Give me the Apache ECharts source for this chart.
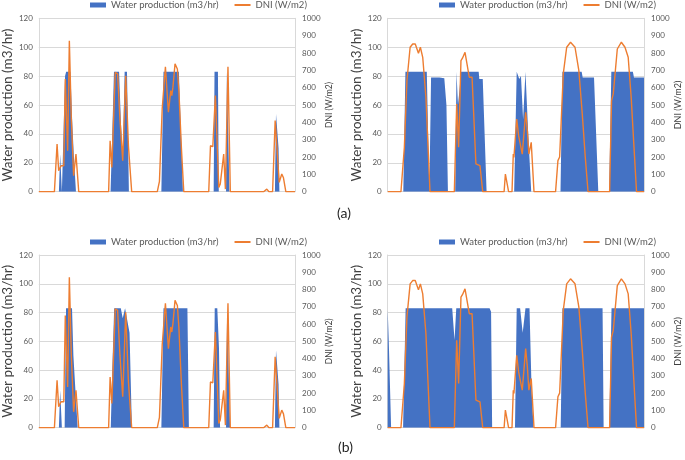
<!DOCTYPE html>
<html>
<head>
<meta charset="utf-8">
<script src="https://cdn.jsdelivr.net/npm/echarts@6/dist/echarts.min.js"></script>
<style>html,body{margin:0;padding:0;background:#fff}#c{width:685px;height:460px}</style>
</head>
<body>
<div id="c"></div>
<script>
// x = time (hours, 0..120)
var seriesNames = ['Water production (m3/hr)', 'DNI (W/m2)'];
var leftTicks = [0, 20, 40, 60, 80, 100, 120];
var rightTicks = [0, 100, 200, 300, 400, 500, 600, 700, 800, 900, 1000];
var captions = ['(a)', '(b)'];

// DNI for the left-hand panels
var dniLeft = [
[0,0],[7.3,0],[8.55,275],[9.3,121],[10.4,150],[11.7,150],[12.4,650],[13.5,236],[14.3,871],[15.2,430],[16.3,92],[17.4,217],[18.7,0],
[32.7,0],[33.4,294],[34.2,140],[35.8,688],[36.9,680],[38.0,420],[39.3,179],[40.7,669],[42.0,260],[43.5,0],
[55.5,0],[56.5,60],[57.8,480],[59.3,721],[60.7,458],[61.8,583],[62.3,554],[62.8,600],[63.8,737],[64.9,708],[65.6,583],[66.8,250],[67.9,0],
[79.6,0],[80.4,265],[81.5,260],[82.7,554],[84.3,25],[85.0,45],[86.6,217],[87.4,15],[88.6,721],[89.7,0],
[104.0,0],[104.6,10],[105.3,0],[106.2,5],[106.8,15],[107.8,0],[109.5,0],[110.7,410],[112.6,54],[113.8,102],[114.6,80],[115.7,0],[120,0]
];

// DNI for the right-hand panels
var dniRight = [
[0,0],[6.2,0],[7.8,256],[9.0,640],[10.5,833],[11.7,852],[12.9,852],[14.4,798],[15.3,833],[16.4,775],[17.9,544],[18.9,256],[19.8,0],
[31.2,0],[32.3,506],[33.2,256],[34.3,756],[35.0,770],[36.2,804],[37.1,804],[38.2,660],[39.5,660],[41.3,160],[43.2,150],[44.5,0],
[54.5,0],[55.1,102],[56.6,0],[58.2,0],[58.8,217],[59.1,198],[60.4,419],[61.3,323],[62.2,323],[63.0,217],[64.6,458],[65.4,350],[66.1,217],[67.2,285],[68.5,0],
[78.6,0],[79.7,179],[80.5,200],[82.2,679],[83.8,833],[85.6,862],[87.7,833],[89.5,698],[91.1,448],[92.5,200],[93.8,0],
[103.9,0],[104.8,525],[105.6,563],[107.5,823],[109.4,862],[111.1,833],[112.6,775],[114.0,544],[115.3,260],[116.5,0],[120,0]
];

// Water production, panel (a) left
var waterALeft = [
[0,0],[9.4,0],[10.0,26],[10.8,0],[11.7,0],[12.3,80],[12.8,83],[14.8,83],[15.6,50],[16.4,25],[17.4,0],
[33.6,0],[34.3,35],[35.2,83],[37.6,83],[38.4,50],[39.3,22],[40.2,83],[41.3,83],[42.2,0],
[57.4,0],[58.4,83],[65.6,83],[66.6,40],[67.5,0],
[81.9,0],[82.3,83],[83.9,83],[84.3,0],
[87.7,0],[88.1,83],[88.9,83],[89.3,0],
[110.6,0],[111.1,54],[112.3,30],[112.7,0],[120,0]
];

// Water production, panel (a) right
var waterARight = [
[0,0],[7.3,0],[8.3,83],[18.3,83],[19.5,0],[20.0,0],[20.3,79],[24.2,79],[26.5,78.5],[27.5,60],[28.2,0],
[31.6,0],[32.2,83],[32.9,60],[33.6,70],[34.3,83],[42.6,83],[42.9,78],[44.5,78],[46.3,0],
[59.2,0],[60.4,83],[61.6,78],[62.4,80],[63.4,50],[64.5,83],[65.3,83],[65.8,40],[67.2,0],
[80.9,0],[81.8,83],[90.8,83],[91.3,79],[96.6,79],[98.6,0],
[103.7,0],[104.7,83],[114.8,83],[115.3,79],[120,79]
];

// Water production, panel (b) left
var waterBLeft = [
[0,0],[9.4,0],[10.0,26],[10.8,0],[12.1,0],[12.75,83],[15.55,83],[16.2,50],[17.1,27],[18.2,0],
[33.7,0],[34.4,40],[35.3,83],[38.4,83],[39.3,76],[40.4,83],[41.2,83],[42.5,66],[43.6,0],
[57.4,0],[58.4,83],[69.6,83],[70.3,0],
[81.9,0],[82.4,83],[83.6,83],[84.4,55],[84.9,0],
[87.7,0],[88.2,83],[89.0,83],[89.6,0],
[110.6,0],[111.1,54],[112.3,30],[112.7,0],[120,0]
];

// Water production, panel (b) right
var waterBRight = [
[0,82],[0.5,60],[1.6,0],
[7.2,0],[8.4,83],[30.2,83],[31.3,61],[32.1,83],[47.7,83],[48.4,80.6],[48.9,0],
[59.6,0],[60.4,83],[62.0,83],[63.2,66],[64.5,83],[66.4,83],[67.4,25],[68.3,0],
[81.0,0],[81.8,83],[100.6,83],[101.1,0],
[103.7,0],[104.8,83],[120,83]
];

var panels = [
  {left: 37.7, right: 390, top: 18.3, bottom: 268.3, water: waterALeft, dni: dniLeft, leg: {left: 90, top: 0}, dniFont: 8.5},
  {left: 387.7, right: 41, top: 18.3, bottom: 268.3, water: waterARight, dni: dniRight, leg: {left: 439, top: 0}, dniFont: 9},
  {left: 37.7, right: 390, top: 255, bottom: 32.3, water: waterBLeft, dni: dniLeft, leg: {left: 90, top: 237}, dniFont: 8.5},
  {left: 387.7, right: 41, top: 255, bottom: 32.3, water: waterBRight, dni: dniRight, leg: {left: 439, top: 237}, dniFont: 9}
];

var FONT = 'Lato, "Open Sans", sans-serif';
var grid = [], xAxis = [], yAxis = [], series = [], legend = [];
panels.forEach(function (p, i) {
  grid.push({left: p.left, right: p.right, top: p.top, bottom: p.bottom, containLabel: false});
  xAxis.push({type: 'value', gridIndex: i, min: 0, max: 120,
    axisLine: {show: false}, axisTick: {show: false}, axisLabel: {show: false}, splitLine: {show: false}});
  yAxis.push({type: 'value', gridIndex: i, position: 'left', min: leftTicks[0], max: leftTicks[leftTicks.length - 1], interval: leftTicks[1] - leftTicks[0],
    name: seriesNames[0], nameLocation: 'middle', nameGap: 23,
    nameTextStyle: {fontFamily: FONT, fontSize: 13.5, color: '#404040'},
    axisLine: {show: true, lineStyle: {color: '#d9d9d9', width: 1}}, axisTick: {show: false},
    axisLabel: {fontFamily: FONT, fontSize: 8, color: '#595959', margin: 6},
    splitLine: {show: true, lineStyle: {color: '#d9d9d9', width: 1}}});
  yAxis.push({type: 'value', gridIndex: i, position: 'right', min: rightTicks[0], max: rightTicks[rightTicks.length - 1], interval: rightTicks[1] - rightTicks[0],
    name: seriesNames[1], nameLocation: 'middle', nameGap: 30,
    nameTextStyle: {fontFamily: FONT, fontSize: p.dniFont, color: '#404040'},
    axisLine: {show: true, lineStyle: {color: '#d9d9d9', width: 1}}, axisTick: {show: false},
    axisLabel: {fontFamily: FONT, fontSize: 8, color: '#595959', margin: 7, formatter: function (v) { return String(v); }},
    splitLine: {show: false}});
  series.push({name: seriesNames[0], type: 'line', xAxisIndex: i, yAxisIndex: 2 * i, data: p.water,
    symbol: 'none', showSymbol: false, lineStyle: {width: 0, color: '#4472C4'}, itemStyle: {color: '#4472C4'},
    areaStyle: {color: '#4472C4', opacity: 1}, z: 2, silent: true});
  series.push({name: seriesNames[1], type: 'line', xAxisIndex: i, yAxisIndex: 2 * i + 1, data: p.dni,
    symbol: 'none', showSymbol: false, lineStyle: {width: 1.4, color: '#ED7D31'}, itemStyle: {color: '#ED7D31'}, z: 3, silent: true});
  legend.push({left: p.leg.left, top: p.leg.top, padding: 0, itemGap: 16, itemWidth: 16, itemHeight: 5,
    textStyle: {fontFamily: FONT, fontSize: 9.5, color: '#595959'},
    selectedMode: false,
    data: [{name: seriesNames[0], icon: 'rect'},
           {name: seriesNames[1], icon: 'path://M0,0h16v2h-16z', itemStyle: {color: '#ED7D31'}}]});
});

var chart = echarts.init(document.getElementById('c'), null, {renderer: 'canvas'});
chart.setOption({
  animation: false,
  backgroundColor: '#ffffff',
  grid: grid, xAxis: xAxis, yAxis: yAxis, series: series, legend: legend,
  graphic: [
    {type: 'text', left: 337, top: 206, style: {text: captions[0], font: '14px Lato, sans-serif', fill: '#262626'}},
    {type: 'text', left: 338, top: 440, style: {text: captions[1], font: '14px Lato, sans-serif', fill: '#262626'}}
  ]
});
</script>
</body>
</html>
